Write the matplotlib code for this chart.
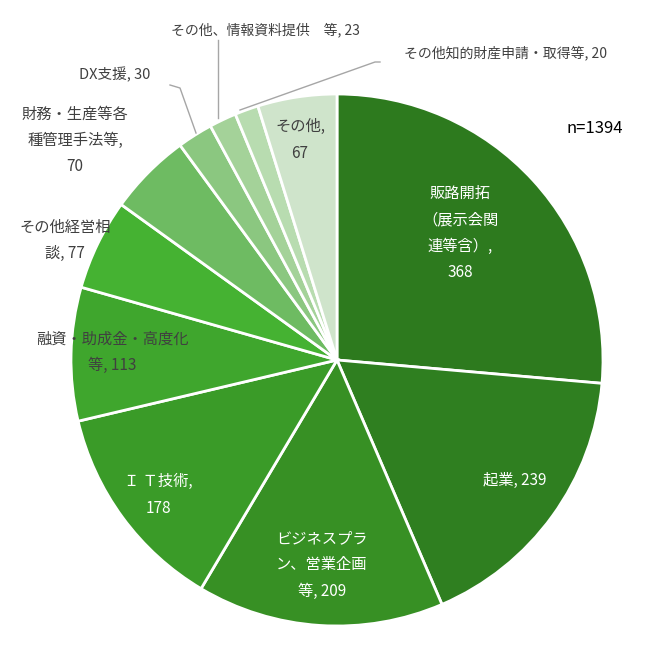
import matplotlib
matplotlib.use("Agg")
import matplotlib.pyplot as plt

plt.rcParams["font.family"] = ["Noto Sans CJK JP"]

categories = ["販路開拓\n（展示会関\n連等含）", "起業", "ビジネスプラ\nン、営業企画\n等", "Ｉ Ｔ技術", "融資・助成金・高度化\n等",
              "その他経営相\n談", "財務・生産等各\n種管理手法等", "DX支援", "その他、情報資料提供　等", "その他知的財産申請・取得等", "その他"]
values = [368, 239, 209, 178, 113, 77, 70, 30, 23, 20, 67]
colors = ["#2D7A1E", "#2F7F20", "#379024", "#3A9B28", "#3FA62D", "#45B232", "#6EBB62", "#8BC780", "#A4D299", "#B8DCB0", "#CFE4CB"]

CX, CY, R = 337, 360, 266
W, H = 647, 648
fig = plt.figure(figsize=(6.47, 6.48), dpi=100)
ax = fig.add_axes([0, 0, 1, 1])
ax.pie(values, colors=colors, startangle=90, counterclock=False, radius=1,
       wedgeprops=dict(edgecolor="white", linewidth=2))
ax.set_xlim(-CX / R, (W - CX) / R)
ax.set_ylim(-(H - CY) / R, CY / R)
ax.set_aspect("equal")
ax.axis("off")

def P(px, py):
    return ((px - CX) / R, (CY - py) / R)

labels = [
    (f"{categories[0]},\n{values[0]}", 460, 233, "white", 1.7),
    (f"{categories[1]}, {values[1]}", 515, 480, "white", 1.7),
    ("ビジネスプラ\nン、営業企画\n等, 209", 322, 565, "white", 1.7),
    ("Ｉ Ｔ技術,\n178", 158, 495, "white", 1.7),
    ("融資・助成金・高度化\n等, 113", 112, 352, "#404040", 1.7),
    ("その他経営相\n談, 77", 65, 240, "#404040", 1.7),
    ("財務・生産等各\n種管理手法等,\n70", 75, 140, "#404040", 1.7),
    ("その他,\n67", 300, 140, "#404040", 1.7),
]
for t, px, py, c, ls in labels:
    ax.text(*P(px, py), t, ha="center", va="center", color=c, fontsize=11, linespacing=ls)

ax.text(*P(115, 75), f"{categories[7]}, {values[7]}", ha="center", va="center", color="#404040", fontsize=10.5)
ax.text(*P(265, 30), f"{categories[8]}, {values[8]}", ha="center", va="center", color="#404040", fontsize=10)
ax.text(*P(505, 53), f"{categories[9]}, {values[9]}", ha="center", va="center", color="#404040", fontsize=10)
ax.text(*P(595, 128), "n=1394", ha="center", va="center", color="black", fontsize=12)

lc = "#A6A6A6"
for pts in [[(170, 85), (180, 88), (196, 133)],
            [(218, 40), (218, 118)],
            [(380, 62), (375, 62), (240, 110)]]:
    xs, ys = zip(*[P(a, b) for a, b in pts])
    ax.plot(xs, ys, color=lc, lw=1)

fig.savefig("out.png", dpi=100)
